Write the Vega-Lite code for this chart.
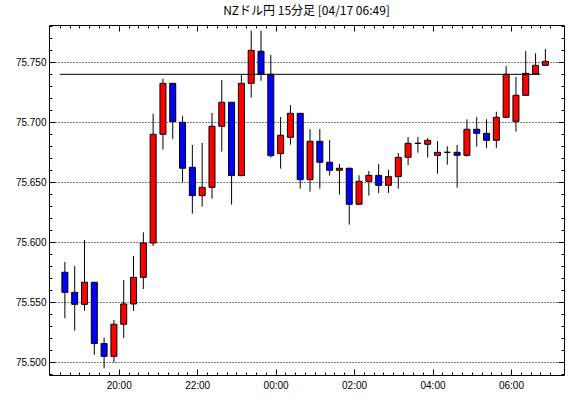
{
  "$schema": "https://vega.github.io/schema/vega-lite/v6.json",
  "autosize": "none",
  "width": 515,
  "height": 350,
  "padding": {"left": 49, "top": 25, "right": 6, "bottom": 23},
  "background": "white",
  "title": {"text": "NZドル円 15分足 [04/17 06:49]", "font": "Noto Sans CJK JP", "fontSize": 12, "fontWeight": "normal", "color": "black", "anchor": "middle", "offset": 3},
  "config": {
    "view": {"stroke": "black", "strokeWidth": 1},
    "axis": {"labelFont": "Liberation Sans", "labelFontSize": 10, "labelColor": "black", "tickColor": "black", "gridColor": "black", "gridDash": [1, 2], "domain": false, "title": null, "labelOverlap": false, "labelFlush": false}
  },
  "datasets": {
    "candles": [
      {"t": "2024-04-16T18:30:00Z", "o": 75.575, "h": 75.5836, "l": 75.5367, "c": 75.5583},
      {"t": "2024-04-16T18:45:00Z", "o": 75.5583, "h": 75.5803, "l": 75.5264, "c": 75.5483},
      {"t": "2024-04-16T19:00:00Z", "o": 75.5483, "h": 75.6019, "l": 75.5431, "c": 75.5667},
      {"t": "2024-04-16T19:15:00Z", "o": 75.5667, "h": 75.5667, "l": 75.5061, "c": 75.5156},
      {"t": "2024-04-16T19:30:00Z", "o": 75.5156, "h": 75.5206, "l": 75.495, "c": 75.505},
      {"t": "2024-04-16T19:45:00Z", "o": 75.505, "h": 75.5353, "l": 75.5, "c": 75.5317},
      {"t": "2024-04-16T20:00:00Z", "o": 75.5317, "h": 75.5686, "l": 75.5203, "c": 75.5486},
      {"t": "2024-04-16T20:15:00Z", "o": 75.5486, "h": 75.5886, "l": 75.5428, "c": 75.5708},
      {"t": "2024-04-16T20:30:00Z", "o": 75.5708, "h": 75.6083, "l": 75.5611, "c": 75.5994},
      {"t": "2024-04-16T20:45:00Z", "o": 75.5994, "h": 75.7072, "l": 75.5969, "c": 75.69},
      {"t": "2024-04-16T21:00:00Z", "o": 75.69, "h": 75.7364, "l": 75.6772, "c": 75.7325},
      {"t": "2024-04-16T21:15:00Z", "o": 75.7325, "h": 75.7325, "l": 75.6861, "c": 75.7006},
      {"t": "2024-04-16T21:30:00Z", "o": 75.7, "h": 75.7053, "l": 75.65, "c": 75.6617},
      {"t": "2024-04-16T21:45:00Z", "o": 75.6625, "h": 75.6811, "l": 75.6239, "c": 75.6389},
      {"t": "2024-04-16T22:00:00Z", "o": 75.6389, "h": 75.6828, "l": 75.6297, "c": 75.6458},
      {"t": "2024-04-16T22:15:00Z", "o": 75.6458, "h": 75.7078, "l": 75.6364, "c": 75.6967},
      {"t": "2024-04-16T22:30:00Z", "o": 75.6967, "h": 75.7353, "l": 75.6756, "c": 75.7167},
      {"t": "2024-04-16T22:45:00Z", "o": 75.7167, "h": 75.7167, "l": 75.6314, "c": 75.6556},
      {"t": "2024-04-16T23:00:00Z", "o": 75.6556, "h": 75.7397, "l": 75.655, "c": 75.7325},
      {"t": "2024-04-16T23:15:00Z", "o": 75.7325, "h": 75.7764, "l": 75.7206, "c": 75.76},
      {"t": "2024-04-16T23:30:00Z", "o": 75.7592, "h": 75.7764, "l": 75.7347, "c": 75.74},
      {"t": "2024-04-16T23:45:00Z", "o": 75.74, "h": 75.7561, "l": 75.6706, "c": 75.6722},
      {"t": "2024-04-17T00:00:00Z", "o": 75.6739, "h": 75.7044, "l": 75.6614, "c": 75.6892},
      {"t": "2024-04-17T00:15:00Z", "o": 75.6875, "h": 75.7144, "l": 75.6814, "c": 75.7075},
      {"t": "2024-04-17T00:30:00Z", "o": 75.7075, "h": 75.7075, "l": 75.6447, "c": 75.6522},
      {"t": "2024-04-17T00:45:00Z", "o": 75.6522, "h": 75.6944, "l": 75.6422, "c": 75.6842},
      {"t": "2024-04-17T01:00:00Z", "o": 75.6842, "h": 75.6944, "l": 75.6447, "c": 75.6667},
      {"t": "2024-04-17T01:15:00Z", "o": 75.6667, "h": 75.6853, "l": 75.6556, "c": 75.66},
      {"t": "2024-04-17T01:30:00Z", "o": 75.66, "h": 75.6653, "l": 75.6397, "c": 75.6617},
      {"t": "2024-04-17T01:45:00Z", "o": 75.6617, "h": 75.6622, "l": 75.6147, "c": 75.6317},
      {"t": "2024-04-17T02:00:00Z", "o": 75.6317, "h": 75.6558, "l": 75.6317, "c": 75.6508},
      {"t": "2024-04-17T02:15:00Z", "o": 75.6508, "h": 75.6594, "l": 75.6389, "c": 75.6558},
      {"t": "2024-04-17T02:30:00Z", "o": 75.6558, "h": 75.6653, "l": 75.6411, "c": 75.6475},
      {"t": "2024-04-17T02:45:00Z", "o": 75.6475, "h": 75.6603, "l": 75.6411, "c": 75.6547},
      {"t": "2024-04-17T03:00:00Z", "o": 75.6547, "h": 75.6744, "l": 75.6447, "c": 75.6708},
      {"t": "2024-04-17T03:15:00Z", "o": 75.6708, "h": 75.6878, "l": 75.6644, "c": 75.6825},
      {"t": "2024-04-17T03:30:00Z", "o": 75.6825, "h": 75.6878, "l": 75.6747, "c": 75.6825},
      {"t": "2024-04-17T03:45:00Z", "o": 75.6817, "h": 75.6869, "l": 75.6706, "c": 75.685},
      {"t": "2024-04-17T04:00:00Z", "o": 75.6725, "h": 75.6844, "l": 75.6572, "c": 75.675},
      {"t": "2024-04-17T04:15:00Z", "o": 75.675, "h": 75.68, "l": 75.6647, "c": 75.675},
      {"t": "2024-04-17T04:30:00Z", "o": 75.675, "h": 75.6811, "l": 75.6456, "c": 75.6725},
      {"t": "2024-04-17T04:45:00Z", "o": 75.6725, "h": 75.7025, "l": 75.6714, "c": 75.6942},
      {"t": "2024-04-17T05:00:00Z", "o": 75.6942, "h": 75.7044, "l": 75.6797, "c": 75.6908},
      {"t": "2024-04-17T05:15:00Z", "o": 75.6908, "h": 75.7025, "l": 75.6786, "c": 75.685},
      {"t": "2024-04-17T05:30:00Z", "o": 75.685, "h": 75.7089, "l": 75.6786, "c": 75.7042},
      {"t": "2024-04-17T05:45:00Z", "o": 75.7042, "h": 75.7469, "l": 75.7042, "c": 75.74},
      {"t": "2024-04-17T06:00:00Z", "o": 75.7008, "h": 75.7378, "l": 75.6922, "c": 75.7225},
      {"t": "2024-04-17T06:15:00Z", "o": 75.7225, "h": 75.7594, "l": 75.7225, "c": 75.7408},
      {"t": "2024-04-17T06:30:00Z", "o": 75.7406, "h": 75.7575, "l": 75.7406, "c": 75.7475},
      {"t": "2024-04-17T06:45:00Z", "o": 75.7475, "h": 75.7611, "l": 75.7475, "c": 75.7508}
    ],
    "refline": [
      {"t": "2024-04-16T18:30:00Z", "t2": "2024-04-17T06:45:00Z", "v": 75.74}
    ]
  },
  "layer": [
    {
      "data": {"name": "candles"},
      "mark": {"type": "rule", "color": "black", "strokeWidth": 1, "xOffset": 5},
      "encoding": {
        "x": {
          "field": "t", "type": "temporal",
          "scale": {"type": "utc", "domain": [1713291660000, 1713338010000]},
          "axis": {
            "orient": "bottom", "grid": false,
            "values": [1713292200000, 1713293100000, 1713294000000, 1713294900000, 1713295800000, 1713296700000, 1713297600000, 1713298500000, 1713299400000, 1713300300000, 1713301200000, 1713302100000, 1713303000000, 1713303900000, 1713304800000, 1713305700000, 1713306600000, 1713307500000, 1713308400000, 1713309300000, 1713310200000, 1713311100000, 1713312000000, 1713312900000, 1713313800000, 1713314700000, 1713315600000, 1713316500000, 1713317400000, 1713318300000, 1713319200000, 1713320100000, 1713321000000, 1713321900000, 1713322800000, 1713323700000, 1713324600000, 1713325500000, 1713326400000, 1713327300000, 1713328200000, 1713329100000, 1713330000000, 1713330900000, 1713331800000, 1713332700000, 1713333600000, 1713334500000, 1713335400000, 1713336300000, 1713337200000],
            "tickSize": {"condition": {"test": "utcminutes(datum.value) == 0 && utchours(datum.value) % 2 == 0", "value": -6}, "value": -3},
            "labelExpr": "utcminutes(datum.value) == 0 && utchours(datum.value) % 2 == 0 ? utcFormat(datum.value, '%H:%M') : ''",
            "labelPadding": 11
          }
        },
        "y": {
          "field": "l", "type": "quantitative",
          "scale": {"domain": [75.4894, 75.7811], "nice": false, "zero": false},
          "axis": {
            "orient": "left",
            "values": [75.49, 75.5, 75.51, 75.52, 75.53, 75.54, 75.55, 75.56, 75.57, 75.58, 75.59, 75.6, 75.61, 75.62, 75.63, 75.64, 75.65, 75.66, 75.67, 75.68, 75.69, 75.7, 75.71, 75.72, 75.73, 75.74, 75.75, 75.76, 75.77, 75.78],
            "grid": true,
            "gridOpacity": {"condition": {"test": "abs(datum.value * 20 - round(datum.value * 20)) < 0.001", "value": 1}, "value": 0},
            "tickSize": {"condition": {"test": "abs(datum.value * 20 - round(datum.value * 20)) < 0.001", "value": -6}, "value": -3},
            "labelExpr": "abs(datum.value * 20 - round(datum.value * 20)) < 0.001 ? format(datum.value, '.3f') : ''",
            "labelPadding": 9
          }
        },
        "y2": {"field": "h"}
      }
    },
    {
      "data": {"name": "candles"},
      "mark": {"type": "bar", "stroke": "black", "strokeWidth": 1, "width": 6, "xOffset": 5},
      "encoding": {
        "x": {
          "field": "t", "type": "temporal",
          "scale": {"type": "utc"},
          "axis": {
            "orient": "top", "grid": false, "labels": false,
            "values": [1713292200000, 1713293100000, 1713294000000, 1713294900000, 1713295800000, 1713296700000, 1713297600000, 1713298500000, 1713299400000, 1713300300000, 1713301200000, 1713302100000, 1713303000000, 1713303900000, 1713304800000, 1713305700000, 1713306600000, 1713307500000, 1713308400000, 1713309300000, 1713310200000, 1713311100000, 1713312000000, 1713312900000, 1713313800000, 1713314700000, 1713315600000, 1713316500000, 1713317400000, 1713318300000, 1713319200000, 1713320100000, 1713321000000, 1713321900000, 1713322800000, 1713323700000, 1713324600000, 1713325500000, 1713326400000, 1713327300000, 1713328200000, 1713329100000, 1713330000000, 1713330900000, 1713331800000, 1713332700000, 1713333600000, 1713334500000, 1713335400000, 1713336300000, 1713337200000],
            "tickSize": {"condition": {"test": "utcminutes(datum.value) == 0 && utchours(datum.value) % 2 == 0", "value": -6}, "value": -3}
          }
        },
        "y": {
          "field": "o", "type": "quantitative",
          "axis": {
            "orient": "right", "grid": false, "labels": false,
            "values": [75.49, 75.5, 75.51, 75.52, 75.53, 75.54, 75.55, 75.56, 75.57, 75.58, 75.59, 75.6, 75.61, 75.62, 75.63, 75.64, 75.65, 75.66, 75.67, 75.68, 75.69, 75.7, 75.71, 75.72, 75.73, 75.74, 75.75, 75.76, 75.77, 75.78],
            "tickSize": {"condition": {"test": "abs(datum.value * 20 - round(datum.value * 20)) < 0.001", "value": -6}, "value": -3}
          }
        },
        "y2": {"field": "c"},
        "fill": {"condition": {"test": "datum.c > datum.o", "value": "#ff0000"}, "value": "#0000ff"}
      }
    },
    {
      "data": {"name": "refline"},
      "mark": {"type": "rule", "color": "black", "strokeWidth": 1},
      "encoding": {
        "x": {"field": "t", "type": "temporal", "scale": {"type": "utc"}, "axis": null},
        "x2": {"field": "t2"},
        "y": {"field": "v", "type": "quantitative", "axis": null}
      }
    }
  ],
  "resolve": {"axis": {"x": "independent", "y": "independent"}}
}
